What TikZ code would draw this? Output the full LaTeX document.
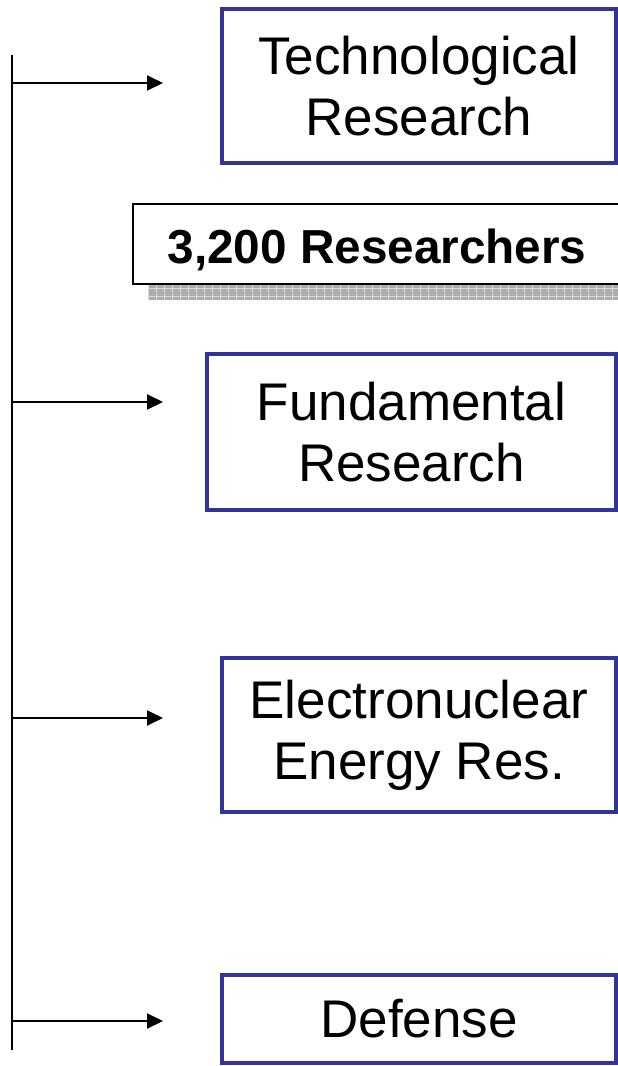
\documentclass[tikz,border=0pt]{standalone}
\usepackage{fontspec}
\setmainfont{Liberation Sans}
\usetikzlibrary{arrows.meta}
\definecolor{boxblue}{RGB}{51,51,153}
\begin{document}
\begin{tikzpicture}[x=1pt,y=-1pt,
  bluebox/.style={draw=boxblue,line width=4pt,fill=white,inner sep=0pt,align=center,
    font=\fontsize{53}{61}\selectfont},
  conn/.style={line width=2pt,-{Triangle[length=16pt,width=15pt]}},
  trunk/.style={line width=2pt}]
\useasboundingbox (0,0) rectangle (618,1066);
% boxes
\node[bluebox,minimum width=394pt,minimum height=154pt] (tech) at (419,86) {Technological\\Research};
\node[bluebox,minimum width=409pt,minimum height=156pt] (fund) at (411.5,432) {Fundamental\\Research};
\node[bluebox,minimum width=394pt,minimum height=154pt] (elec) at (419,735) {Electronuclear\\Energy Res.};
\node[bluebox,minimum width=394pt,minimum height=88pt] (def) at (419,1019) {Defense};
% shadow of researchers box
\begin{scope}
  \clip (148,285) rectangle (625,300);
  \fill[gray!65] (148,285) rectangle (625,300);
  \foreach \x in {148,156,...,624} \draw[gray!30,line width=0.8pt] (\x,285) -- (\x,300);
  \foreach \y in {288,296} \draw[gray!30,line width=0.8pt] (148,\y) -- (625,\y);
\end{scope}
\node[draw=black,line width=2.5pt,fill=white,minimum width=488pt,minimum height=80pt,inner sep=0pt,
  text height=38pt,text depth=0pt,
  font=\bfseries\fontsize{47.7}{56}\selectfont] (res) at (377,244) {3,200 Researchers};
% trunk and arrows
\coordinate (top) at (12,55);
\coordinate (bot) at (12,1050);
\draw[trunk] (top) -- (bot);
\coordinate (s1) at (12,83);   \coordinate (e1) at (163,83);
\coordinate (s2) at (12,402);  \coordinate (e2) at (163,402);
\coordinate (s3) at (12,718);  \coordinate (e3) at (163,718);
\coordinate (s4) at (12,1021); \coordinate (e4) at (163,1021);
\draw[conn] (s1) -- (e1);
\draw[conn] (s2) -- (e2);
\draw[conn] (s3) -- (e3);
\draw[conn] (s4) -- (e4);
\end{tikzpicture}
\end{document}
